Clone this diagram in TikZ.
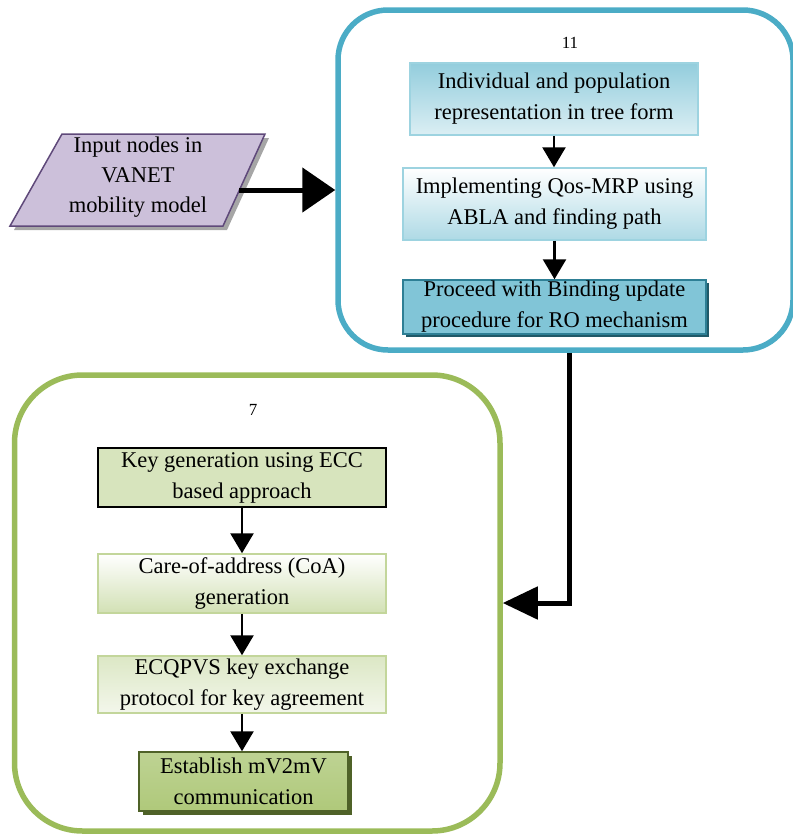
\documentclass[tikz,border=0pt]{standalone}
\usepackage{fontspec}
\setmainfont{Liberation Serif}
\usetikzlibrary{arrows.meta,shadows}

\definecolor{frameblue}{HTML}{4BACC6}
\definecolor{framegreen}{HTML}{9BBB59}
\definecolor{lightblueedge}{HTML}{9DD3E0}
\definecolor{darkblueedge}{HTML}{2E7F95}
\definecolor{lightgreenedge}{HTML}{C3D69B}
\definecolor{darkgreenedge}{HTML}{4F6228}
\definecolor{purplefill}{HTML}{CCC0DA}
\definecolor{purpleedge}{HTML}{5F497A}

\begin{document}
\begin{tikzpicture}[x=1pt,y=-1pt,
  txt/.style={font=\fontsize{22.5}{31}\selectfont, align=center},
  proc/.style={txt, rectangle, inner sep=0pt, line width=1.5pt},
  thinarrow/.style={line width=2.6pt, -{Triangle[length=20pt,width=23pt]}},
  thickarrow/.style={line width=5pt},
  frame/.style={rectangle, line width=5.5pt, inner sep=0pt}]
\useasboundingbox (0,0) rectangle (793,836);

% outer frames
\node[frame, draw=frameblue, rounded corners=50pt, minimum width=455pt, minimum height=340pt] (blu) at (565.5,180) {};
\node[frame, draw=framegreen, rounded corners=68pt, minimum width=485.5pt, minimum height=456pt] (grn) at (257.25,603) {};
\node[font=\fontsize{17}{20}\selectfont] (n11) at (570,43) {11};
\node[font=\fontsize{17}{20}\selectfont] (n7) at (253,410) {7};

% input parallelogram with its shadow
\fill[black!35] (66,138) -- (269,138) -- (227,230) -- (14,230) -- cycle;
\draw[fill=purplefill, draw=purpleedge, line width=1.5pt]
  (62,134) -- (265,134) -- (223,226) -- (10,226) -- cycle;
\node[txt, font=\fontsize{22.5}{30}\selectfont] (inp) at (138,177) {Input nodes in\\VANET\\mobility model};
\coordinate (inpR) at (239,190);

% blue process boxes
\node[proc, draw=lightblueedge, top color=frameblue!60, bottom color=frameblue!20,
      minimum width=288pt, minimum height=72pt] (b1) at (554,99)
      {Individual and population\\representation in tree form};
\node[proc, draw=lightblueedge, top color=white, bottom color=frameblue!45,
      minimum width=303pt, minimum height=72pt] (b2) at (554.5,204)
      {Implementing Qos-MRP using\\ABLA and finding path};
\node[proc, draw=darkblueedge, top color=frameblue!70, middle color=frameblue!90!black, bottom color=frameblue!70,
      general shadow={fill=darkblueedge!70!black, shadow xshift=3pt, shadow yshift=-3pt},
      minimum width=303pt, minimum height=54pt] (b3) at (554.5,307)
      {Proceed with Binding update\\procedure for RO mechanism};

% green process boxes
\node[proc, draw=black, fill=framegreen!40,
      minimum width=288pt, minimum height=59pt] (g1) at (242,477.5)
      {Key generation using ECC\\based approach};
\node[proc, draw=lightgreenedge, top color=white, bottom color=framegreen!45,
      minimum width=288pt, minimum height=59pt] (g2) at (242,583.5)
      {Care-of-address (CoA)\\generation};
\node[proc, draw=lightgreenedge, top color=framegreen!35, bottom color=framegreen!12,
      minimum width=288pt, minimum height=57pt] (g3) at (242,684.5)
      {ECQPVS key exchange\\protocol for key agreement};
\node[proc, draw=darkgreenedge, top color=framegreen!65, middle color=framegreen!90!black, bottom color=framegreen!80,
      general shadow={fill=darkgreenedge, shadow xshift=4pt, shadow yshift=-4pt},
      minimum width=209pt, minimum height=59pt] (g4) at (243.5,781.5)
      {Establish mV2mV\\communication};

% connectors
\draw[thickarrow, -{Triangle[length=33pt,width=44pt]}] (inpR) -- (inpR -| blu.west);
\draw[thinarrow] (b1.south) -- (b1.south |- b2.north);
\draw[thinarrow] (b2.south) -- (b2.south |- b3.north);
\draw[thinarrow] (g1.south) -- (g2.north);
\draw[thinarrow] (g2.south) -- (g3.north);
\draw[thinarrow] (g3.south) -- (g3.south |- g4.north);
\coordinate (bend) at (569,603);
\draw[thickarrow, -{Triangle[length=35pt,width=32pt]}] (blu.south -| bend) -- (bend) -- (bend -| grn.east);
\end{tikzpicture}
\end{document}
